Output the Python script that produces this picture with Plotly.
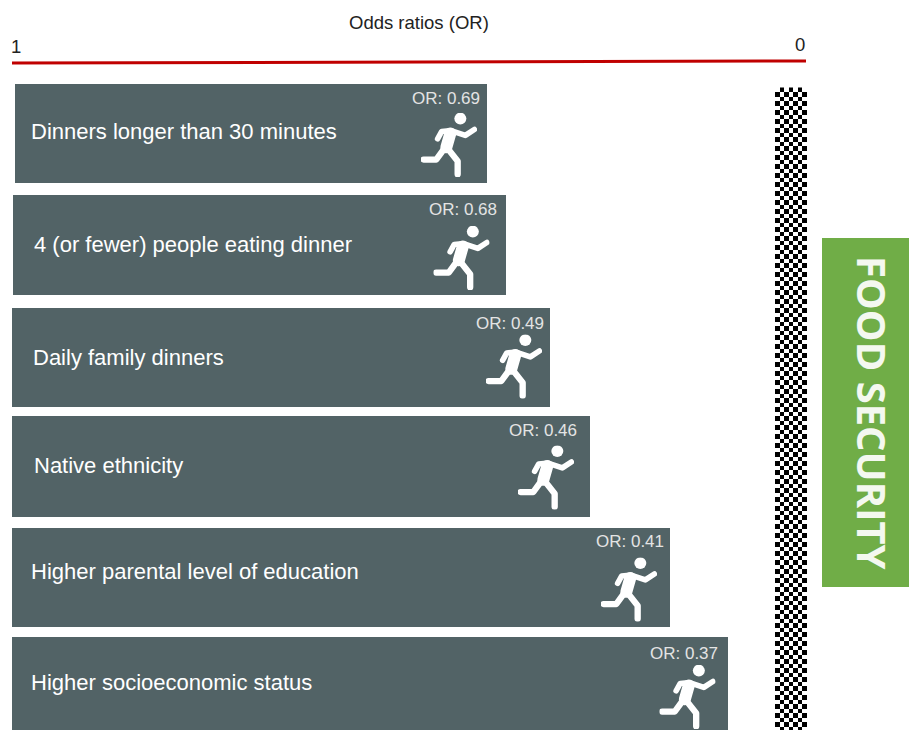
import base64
import numpy as np
import plotly.graph_objects as go

categories = ["Dinners longer than 30 minutes", "4 (or fewer) people eating dinner", "Daily family dinners",
              "Native ethnicity", "Higher parental level of education", "Higher socioeconomic status"]
or_labels = ["OR: 0.69", "OR: 0.68", "OR: 0.49", "OR: 0.46", "OR: 0.41", "OR: 0.37"]
# Position of each bar's free end on the 1-to-0 scale
bar_end = [0.402, 0.378, 0.322, 0.2715, 0.171, 0.098]

# layout (pixels)
W, H = 909, 730
X1, X0 = 12, 806
def ox(p):
    return (X0 - p) / (X0 - X1)

bar_left = [15, 13, 12, 12, 12, 12]
bar_top = [84, 195, 308, 416, 528, 637]
bar_bot = [183, 295, 407, 517, 627, 740]
label_x = [29, 32, 31, 32, 29, 29]
label_y = [131, 244, 357, 465, 571, 682]
or_right = [482, 499, 546, 579, 666, 720]
or_y = [98, 209, 323, 430, 541, 653]
icon_cx = [449, 461.5, 514, 546, 629, 687.5]
icon_cy = [145, 258, 366.5, 477.5, 589.5, 697]

BAR = "#526366"
fig = go.Figure()
fig.add_trace(go.Bar(
    y=[(a + b) / 2 for a, b in zip(bar_top, bar_bot)],
    width=[b - a for a, b in zip(bar_top, bar_bot)],
    base=[ox(p) for p in bar_left],
    x=[e - ox(p) for e, p in zip(bar_end, bar_left)],
    orientation="h", marker=dict(color=BAR, line=dict(width=0)),
    text=categories, textposition="none", hoverinfo="text", showlegend=False))

# chequered bar
rows, cols = 143, 7
cell = 4.5
xs = [ox(775 + cell * (i + .5)) for i in range(cols)]
ys = [87.5 + cell * (j + .5) for j in range(rows)]
z = np.indices((rows, cols)).sum(axis=0) % 2
fig.add_trace(go.Heatmap(x=xs, y=ys, z=z, zmin=0, zmax=1, showscale=False, hoverinfo="skip",
                         colorscale=[[0, "#ffffff"], [1, "#000000"]]))

# red axis line
fig.add_trace(go.Scatter(x=[1, 0], y=[63, 61], mode="lines", hoverinfo="skip", showlegend=False,
                         line=dict(color="#C00000", width=3)))

svg = ('<svg xmlns="http://www.w3.org/2000/svg" viewBox="0 0 168 194">'
       '<circle cx="118" cy="17" r="18" fill="#fff"/>'
       '<g fill="none" stroke="#fff" stroke-linecap="round" stroke-linejoin="round">'
       '<path stroke-width="36" d="M88 62L76 104"/>'
       '<path stroke-width="17" d="M92 54L133 68L160 50"/>'
       '<path stroke-width="17" d="M85 54L62 56L50 78"/>'
       '<path stroke-width="19" d="M72 105L46 141L8 141"/>'
       '<path stroke-width="19" d="M78 105L110 146L110 186"/>'
       '</g></svg>')
uri = "data:image/svg+xml;base64," + base64.b64encode(svg.encode()).decode()
images = [dict(source=uri, xref="x", yref="y", x=ox(cx - 28), y=cy - 32, sizex=56 / (X0 - X1), sizey=64,
               xanchor="left", yanchor="top", sizing="stretch", layer="above")
          for cx, cy in zip(icon_cx, icon_cy)]

ann = []
FONT = "Liberation Sans, Arial, sans-serif"
for c, x, y in zip(categories, label_x, label_y):
    ann.append(dict(x=ox(x), y=y, text=c, xanchor="left", yanchor="middle", showarrow=False,
                    font=dict(family=FONT, size=22, color="#ffffff")))
for t, x, y in zip(or_labels, or_right, or_y):
    ann.append(dict(x=ox(x), y=y, text=t, xanchor="right", yanchor="middle", showarrow=False,
                    font=dict(family=FONT, size=17, color="#e4e4e4")))
ann.append(dict(x=ox(419), y=22, text="Odds ratios (OR)", xanchor="center", yanchor="middle", showarrow=False,
                font=dict(family=FONT, size=18.5, color="#222222")))
ann.append(dict(x=ox(9), y=46, text="1", xanchor="left", yanchor="middle", showarrow=False,
                font=dict(family=FONT, size=18.5, color="#222222")))
ann.append(dict(x=ox(807), y=44, text="0", xanchor="right", yanchor="middle", showarrow=False,
                font=dict(family=FONT, size=18.5, color="#222222")))
ann.append(dict(x=ox(873), y=413, text="<b>FOOD SECURITY</b>", textangle=90, xanchor="center", yanchor="middle",
                showarrow=False, font=dict(family="Open Sans, sans-serif", size=40, color="#F4F8F0")))

shapes = [dict(type="rect", xref="x", yref="y", x0=ox(822), x1=ox(909), y0=238, y1=587,
               fillcolor="#70AD47", line=dict(width=0), layer="below")]

fig.update_layout(
    width=W, height=H, margin=dict(l=0, r=0, t=0, b=0), paper_bgcolor="#fff", plot_bgcolor="#fff",
    xaxis=dict(range=[ox(0), ox(W)], visible=False, fixedrange=True),
    yaxis=dict(range=[H, 0], visible=False, fixedrange=True),
    annotations=ann, shapes=shapes, images=images, showlegend=False, bargap=0)
fig.write_html("out.html", config=dict(displayModeBar=False),
               post_script="document.body.style.margin='0';document.body.style.overflow='hidden';")
